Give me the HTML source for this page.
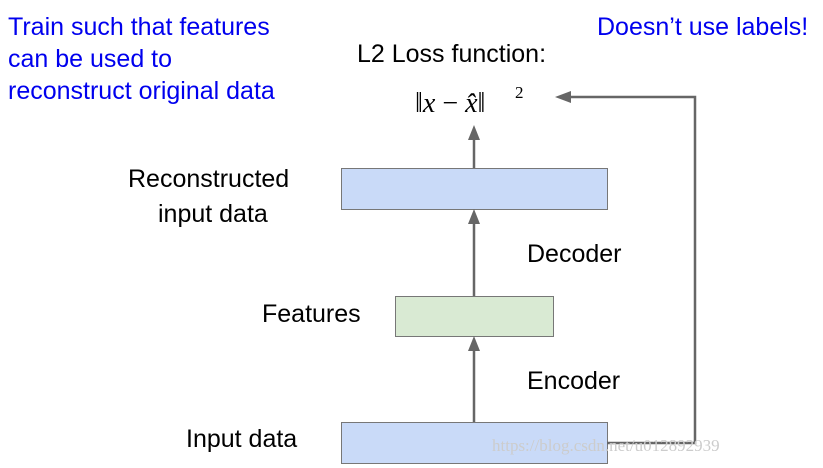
<!DOCTYPE html><html><head><style>body{margin:0;background:#fff}</style></head><body>
<svg width="823" height="468" xmlns="http://www.w3.org/2000/svg" style="display:block">
<g font-family="Liberation Sans, sans-serif" font-size="25">
<text x="8" y="35" fill="#0000ee">Train such that features</text>
<text x="8" y="67" fill="#0000ee">can be used to</text>
<text x="8" y="99" fill="#0000ee">reconstruct original data</text>
<text x="597" y="35" fill="#0000ee">Doesn’t use labels!</text>
<text x="357" y="62" fill="#000">L2 Loss function:</text>
<text x="128" y="187" fill="#000">Reconstructed</text>
<text x="158" y="222" fill="#000">input data</text>
<text x="527" y="262" fill="#000">Decoder</text>
<text x="262" y="322" fill="#000">Features</text>
<text x="527" y="389" fill="#000">Encoder</text>
<text x="186" y="447" fill="#000">Input data</text>
</g>
<g font-family="Liberation Serif, serif" font-style="italic" font-size="28" fill="#000">
<text x="415" y="112">‖<tspan>x</tspan><tspan font-style="normal"> − </tspan>x̂‖</text>
<text x="515" y="98" font-size="17" font-style="normal">2</text>
<text x="474" y="199" text-anchor="middle">x̂</text>
<text x="474" y="324" text-anchor="middle">z</text>
<text x="474" y="451" text-anchor="middle">x</text>
</g>
<rect x="341.5" y="168.5" width="266" height="41" fill="#c9daf8" stroke="#777"/>
<rect x="395.5" y="296.5" width="158" height="40" fill="#d9ead3" stroke="#777"/>
<rect x="341.5" y="422.5" width="266" height="41" fill="#c9daf8" stroke="#777"/>
<g stroke="#666" stroke-width="2.5" fill="none">
<line x1="474" y1="168" x2="474" y2="138"/>
<line x1="474" y1="296" x2="474" y2="222"/>
<line x1="474" y1="422" x2="474" y2="349"/>
<polyline points="607,443 695,443 695,97 570,97"/>
</g>
<g fill="#666">
<polygon points="474,125 468,140 480,140"/>
<polygon points="474,209 468,224 480,224"/>
<polygon points="474,336 468,351 480,351"/>
<polygon points="555,97 571,91 571,103"/>
</g>
<text x="492" y="451" font-family="Liberation Serif, serif" font-size="17" fill="#ccc">https://blog.csdn.net/u012892939</text>
</svg>
</body></html>
